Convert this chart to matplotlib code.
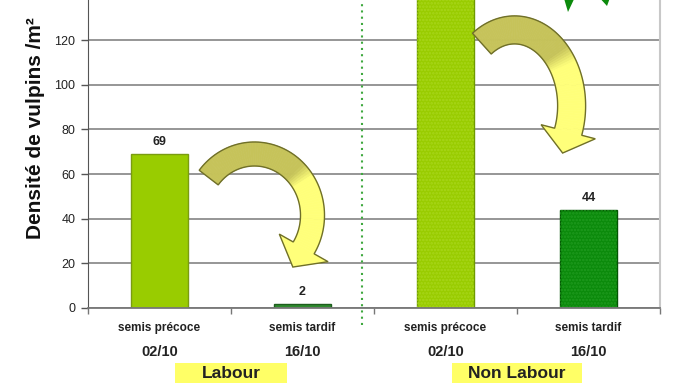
import numpy as np
import matplotlib
matplotlib.use('Agg')
import matplotlib.pyplot as plt
from matplotlib.patches import Polygon, Rectangle
from matplotlib.transforms import IdentityTransform, blended_transform_factory
from matplotlib.colors import to_rgb

plt.rcParams['font.family'] = ['Liberation Sans', 'DejaVu Sans']
plt.rcParams['hatch.linewidth'] = 1.2

# data
sowing = ['semis précoce', 'semis tardif', 'semis précoce', 'semis tardif']
dates = ['02/10', '16/10', '02/10', '16/10']
density = [69, 2, 170, 44]          # 3rd bar runs off the top of the slide
systems = ['Labour', 'Non Labour']
y_ticks = [0, 20, 40, 60, 80, 100, 120]

face = ['#99cc00', '#2e8b2e', '#99cc00', '#0b8a0b']
edge = ['#7a9c10', '#1d5e1d', '#6f9a00', '#045404']
textured = [False, False, True, True]
dots = ['#99cc00', '#2e8b2e', '#a8d61a', '#1f9a1f']

W, H = 690, 388
fig = plt.figure(figsize=(W / 100, H / 100), dpi=100)
ax = fig.add_axes([88 / W, 80 / H, 572 / W, 308 / H])

x = np.arange(len(density))
ax.bar(x, density, width=0.4, color=face, edgecolor=edge, linewidth=1, zorder=2)
for xi, h, t, dc in zip(x, density, textured, dots):
    if t:
        ax.bar(xi, h, width=0.4, color='none', edgecolor=dc, linewidth=0,
               hatch='.....', zorder=2.1)

# axes styling
ax.set_yticks(y_ticks)
ax.set_yticklabels([str(v) for v in y_ticks], fontsize=9, color='#222222')
ax.set_xticks([-0.5, 0.5, 1.5, 2.5, 3.5])
ax.set_xticklabels([])
ax.set_xlim(-0.5, 3.5)
ax.set_ylim(0, 138)
ax.tick_params(axis='x', length=4, color='#777777', width=1)
ax.tick_params(axis='y', length=5, color='#555555', width=1, pad=4)
ax.yaxis.grid(True, color='#8e8e8e', linewidth=1.3)
ax.set_axisbelow(True)
ax.spines['top'].set_visible(False)
ax.spines['right'].set_color('#c8c8c8')
ax.spines['right'].set_linewidth(1.5)
ax.spines['left'].set_color('#555555')
ax.spines['bottom'].set_color('#777777')
ax.spines['bottom'].set_linewidth(1.3)

for xi, h in zip(x, density):
    ax.annotate(str(h), (xi, h), xytext=(0, 4), textcoords='offset points',
                ha='center', va='bottom', fontsize=9, fontweight='bold',
                color='#222222', annotation_clip=True)

trans = blended_transform_factory(ax.transData, ax.transAxes)

# separator between the two soil systems
ax.plot([1.413, 1.413], [-0.055, 1], transform=trans, color='#3fa83f',
        linestyle=(0, (1, 2)), linewidth=1.5, clip_on=False, zorder=3)

for xi, s, d in zip(x, sowing, dates):
    ax.text(xi, -0.065, s, transform=trans, ha='center', va='center',
            fontsize=8.5, fontweight='bold', color='#222222')
    ax.text(xi, -0.143, d, transform=trans, ha='center', va='center',
            fontsize=10.5, fontweight='bold', color='#222222')

box_w = [0.79, 0.91]
for i, (name, bw) in enumerate(zip(systems, box_w)):
    xc = (x[2 * i] + x[2 * i + 1]) / 2
    ax.add_patch(Rectangle((xc - bw / 2, -0.2435), bw, 0.065, transform=trans,
                           facecolor='#ffff66', edgecolor='none', clip_on=False))
    ax.text(xc, -0.212, name, transform=trans, ha='center', va='center',
            fontsize=12.5, fontweight='bold', color='#222222')

fig.text(36 / W, 1 - 128 / H, 'Densité de vulpins /m²', rotation=90,
         ha='center', va='center', fontsize=15, fontweight='bold', color='#111111')


def curved_arrow(ax, cx, cy, rx, ry, a0, a1, width, head_w, head_len, split):
    deg = np.linspace(a0, a1, 80)
    t = np.radians(deg)
    pts = ax.transData.transform(np.column_stack([cx + rx * np.cos(t), cy + ry * np.sin(t)]))
    d = np.gradient(pts, axis=0)
    d /= np.linalg.norm(d, axis=1)[:, None]
    n = np.column_stack([-d[:, 1], d[:, 0]])
    left = pts + n * width / 2
    right = pts - n * width / 2
    s = np.clip((split + 6 - deg) / 12, 0, 1)
    c0, c1 = np.array(to_rgb('#c6c35a')), np.array(to_rgb('#ffff7a'))
    idt = IdentityTransform()
    for i in range(len(t) - 1):
        col = c0 * (1 - s[i]) + c1 * s[i]
        ax.add_patch(Polygon([left[i], left[i + 1], right[i + 1], right[i]],
                             facecolor=col, edgecolor=col, linewidth=0.5,
                             transform=idt, zorder=4))
    end, tang, nor = pts[-1], d[-1], n[-1]
    hl, hr = end + nor * head_w / 2, end - nor * head_w / 2
    tip = end + tang * head_len
    ax.add_patch(Polygon([hl, tip, hr], facecolor=c1, edgecolor=c1,
                         linewidth=0.5, transform=idt, zorder=4))
    outline = np.vstack([left, [hl, tip, hr], right[::-1]])
    ax.add_patch(Polygon(outline, closed=True, fill=False, edgecolor='#6f6f2a',
                         linewidth=1, transform=idt, zorder=5))


curved_arrow(ax, 0.664, 41.5, 0.406, 27.5, 142, -32, 24, 56, 22, 40)
curved_arrow(ax, 2.483, 90.6, 0.399, 34.0, 125, -20, 28, 56, 22, 38)

# bits of the green picture poking in from above
for tri in ([(563, -5), (576, -5), (568, 12)], [(597, -5), (611, -5), (607, 6)]):
    pts = [(px, H - py) for px, py in tri]
    ax.add_patch(Polygon(pts, facecolor='#0c8a0c', edgecolor='none',
                         transform=IdentityTransform(), zorder=5))

fig.savefig('out.png', dpi=100)
